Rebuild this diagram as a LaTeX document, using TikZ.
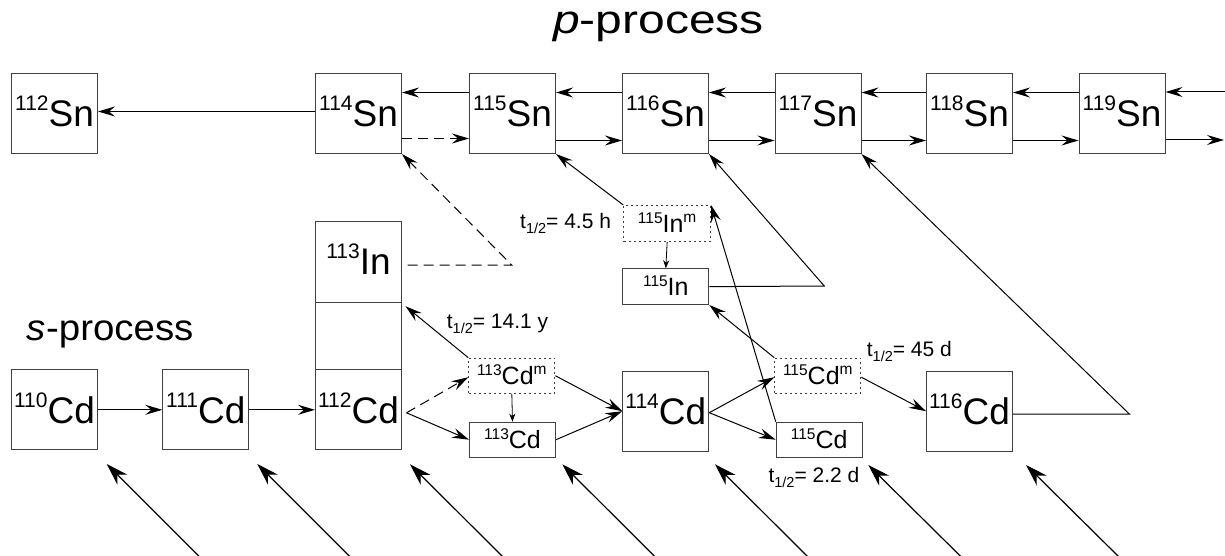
\documentclass[tikz,border=0pt]{standalone}
\usepackage{fontspec}
\setmainfont{Liberation Sans}
\usepackage{graphicx}
\usetikzlibrary{arrows.meta,calc}
\newcommand\bignuc[2]{\raisebox{16pt}[0pt][0pt]{\fontsize{21}{22}\selectfont #1}#2}
\newcommand\smnuc[2]{\raisebox{9pt}[0pt][0pt]{\fontsize{15.5}{16}\selectfont #1}#2}
\newcommand\supm{\raisebox{10pt}[0pt][0pt]{\fontsize{15.5}{16}\selectfont m}}
\newcommand\thalf[1]{t\raisebox{-5.5pt}{\fontsize{14.5}{15}\selectfont 1/2}= #1}
\begin{document}
\begin{tikzpicture}[x=1pt,y=-1pt,
  nbox/.style={draw=black!75, line width=1pt, inner sep=0pt, anchor=north west,
    minimum width=86pt, minimum height=80pt, font=\fontsize{37}{40}\selectfont},
  sbox/.style={draw=black!75, line width=1pt, inner sep=0pt, anchor=north west,
    minimum width=86pt, minimum height=35pt, font=\fontsize{25}{27}\selectfont},
  mbox/.style={sbox, dash pattern=on 2pt off 3pt},
  arr/.style={-{Stealth[length=17pt,width=10pt,inset=6pt]}, line width=1pt},
  sarr/.style={-{Stealth[length=8pt,width=6pt,inset=2.5pt]}, line width=0.8pt},
  barr/.style={-{Stealth[length=22pt,width=14pt,inset=7pt]}, line width=1.2pt},
  dsh/.style={dash pattern=on 10pt off 6pt},
  lbl/.style={anchor=base west, inner sep=0pt, font=\fontsize{21}{22}\selectfont}]
\useasboundingbox[fill=white] (0,0) rectangle (1225,556);

% titles
\node[anchor=base west, inner sep=0pt, font=\fontsize{40}{44}\selectfont] (ptitle) at (553,33.3)
  {\scalebox{1.2}[1]{\textit{p}-process}};
\node[anchor=base west, inner sep=0pt, font=\fontsize{36.6}{40}\selectfont] (stitle) at (26.7,340.7)
  {\scalebox{1.05}[1]{\textit{s}-process}};

% Sn row
\node[nbox] (sn112) at (11,73) {\bignuc{112}{Sn}};
\node[nbox] (sn114) at (315,73) {\bignuc{114}{Sn}};
\node[nbox] (sn115) at (469,73) {\bignuc{115}{Sn}};
\node[nbox] (sn116) at (622,73) {\bignuc{116}{Sn}};
\node[nbox] (sn117) at (774.5,73) {\bignuc{117}{Sn}};
\node[nbox] (sn118) at (926,73) {\bignuc{118}{Sn}};
\node[nbox] (sn119) at (1078.5,73) {\bignuc{119}{Sn}};
\coordinate (rin) at (1226,92);
\coordinate (rout) at (1224,140);

\draw[arr] ([yshift=2pt]sn114.west) -- ([yshift=2pt]sn112.east);
\draw[arr] ([yshift=21pt]sn115.west) -- ([yshift=21pt]sn114.east);
\draw[arr] ([yshift=21pt]sn116.west) -- ([yshift=21pt]sn115.east);
\draw[arr] ([yshift=21pt]sn117.west) -- ([yshift=21pt]sn116.east);
\draw[arr] ([yshift=21pt]sn118.west) -- ([yshift=21pt]sn117.east);
\draw[arr] ([yshift=21pt]sn119.west) -- ([yshift=21pt]sn118.east);
\draw[arr] (rin) -- (sn119.east |- rin);
\draw[arr, dsh] ([yshift=-25pt]sn114.east) -- ([yshift=-25pt]sn115.west);
\draw[arr] ([yshift=-27pt]sn115.east) -- ([yshift=-27pt]sn116.west);
\draw[arr] ([yshift=-27pt]sn116.east) -- ([yshift=-27pt]sn117.west);
\draw[arr] ([yshift=-27pt]sn117.east) -- ([yshift=-27pt]sn118.west);
\draw[arr] ([yshift=-27pt]sn118.east) -- ([yshift=-27pt]sn119.west);
\draw[arr] (sn119.east |- rout) -- (rout);

% In / Cd column
\node[nbox, minimum height=80.7pt] (in113) at (315,221) {\bignuc{113}{In}};
\node[nbox, minimum height=67.6pt] (colmid) at (315,301.7) {};
\node[nbox] (cd112) at (315,369.3) {\bignuc{112}{Cd}};

% Cd row
\node[nbox] (cd110) at (11,369.3) {\bignuc{110}{Cd}};
\node[nbox] (cd111) at (162.3,369.3) {\bignuc{111}{Cd}};
\node[mbox] (cd113m) at (468.3,357.7) {\smnuc{113}{Cd}\supm};
\node[sbox] (cd113) at (469,421.7) {\smnuc{113}{Cd}};
\node[nbox] (cd114) at (622.3,370.7) {\bignuc{114}{Cd}};
\node[mbox] (cd115m) at (774.3,357.7) {\smnuc{115}{Cd}\supm};
\node[sbox] (cd115) at (775.7,421.7) {\smnuc{115}{Cd}};
\node[nbox] (cd116) at (926,370.7) {\bignuc{116}{Cd}};

% In isotopes
\node[mbox, minimum width=86.7pt, minimum height=36pt] (in115m) at (623.3,205) {\smnuc{115}{In}\supm};
\node[sbox, minimum height=35.7pt] (in115) at (622.3,268.3) {\smnuc{115}{In}};

% Cd connectors
\draw[arr] (cd110.east) -- (cd111.west);
\draw[arr] (cd111.east) -- (cd112.east -| cd112.west);
\coordinate (fork) at ([xshift=4.5pt,yshift=-3pt]cd112.east);
\draw[arr, dsh] (fork) -- ([yshift=-1.5pt]cd113m.west);
\draw[arr] (fork) -- (cd113.west);
\draw[sarr] (cd113m.south) -- (cd113.north);
\draw[arr] (cd113m.east) -- (cd114.west);
\draw[arr] (cd113.east) -- (cd114.west);
\draw[arr] ([yshift=-1.5pt]cd114.east) -- ([yshift=-1.5pt]cd115m.west);
\draw[arr] ([yshift=-1.5pt]cd114.east) -- (cd115.west);
\draw[arr] ([yshift=-1.5pt]cd115m.east) -- (cd116.west);

% decay / branch connectors
\draw[arr] (cd113m.north west) -- ([xshift=3.5pt,yshift=-4.5pt]colmid.north east);
\draw[arr] (cd115m.north west) -- (in115.south east);
\draw[arr] (cd115.north west) -- (in115m.north east);
\draw[sarr] (in115m.south) -- (in115.north);
\draw[arr] (in115m.north west) -- (sn115.south east);
\coordinate (k2) at (824.3,286);
\draw[arr] (in115.east) -- (k2) -- (sn116.south east);
\coordinate (k1) at (1129.3,414);
\draw[arr] (cd116.east |- k1) -- (k1) -- (sn117.south east);
\coordinate (k3) at (511.7,265);
\draw[arr, dsh] ([xshift=5.5pt]in113.east |- k3) -- (k3) -- (sn114.south east);

% half-life labels
\node[lbl] (th1) at (520,228.3) {\thalf{4.5 h}};
\node[lbl] (th2) at (446.7,328.3) {\thalf{14.1 y}};
\node[lbl] (th3) at (866.7,356) {\thalf{45 d}};
\node[lbl] (th4) at (768.3,482) {\thalf{2.2 d}};

% bottom neutron-capture arrows
\foreach \tx/\ty [count=\i] in {106.7/464, 257.3/464, 410/464.3, 562.3/464.3, 715/464.3, 868.3/465, 1026/465} {
  \coordinate (bt\i) at (\tx,\ty);
  \coordinate (bs\i) at (\tx+93,557);
  \draw[barr] (bs\i) -- (bt\i);
}
\end{tikzpicture}
\end{document}
